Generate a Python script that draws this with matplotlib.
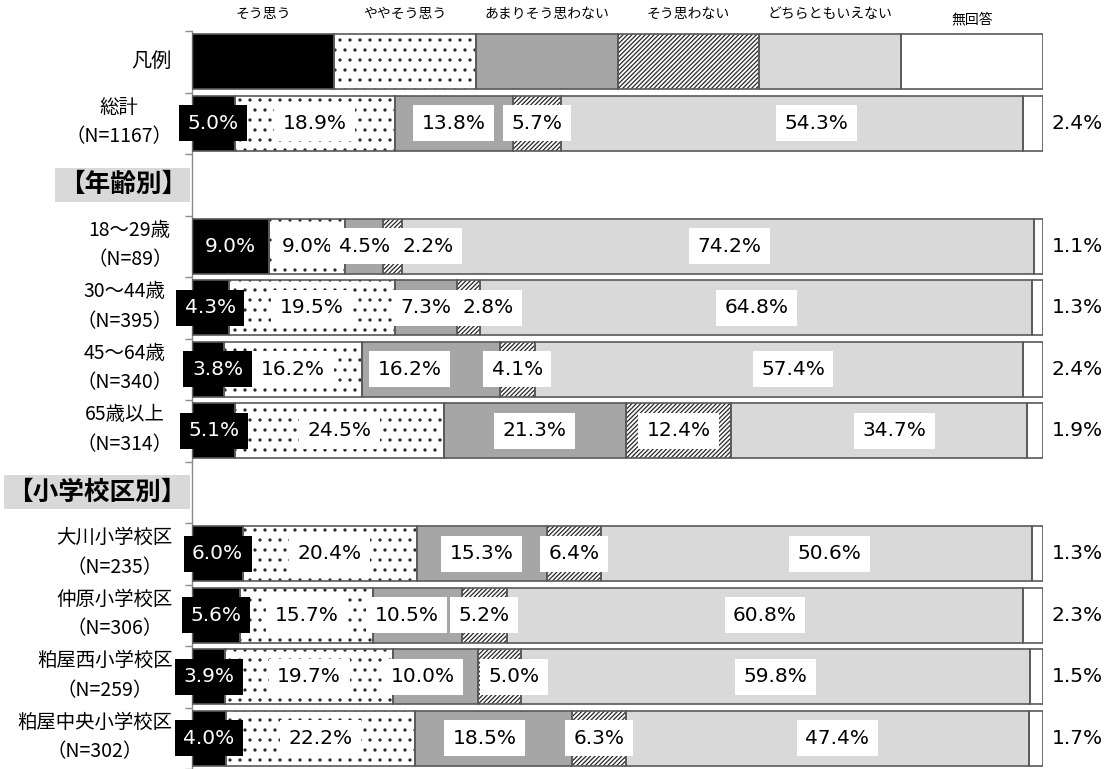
import matplotlib
matplotlib.use("Agg")
import matplotlib.pyplot as plt
import numpy as np

# The figure is rendered at 120 dpi so the dotted hatch gets a ~10 px pitch;
# every size below is written as if at 100 dpi and scaled with S().
DPI = 120
W_PX, H_PX = 1112, 769


def S(v):
    return v * 100 / DPI


plt.rcParams["font.family"] = ["Noto Sans CJK JP", "DejaVu Sans"]
plt.rcParams["hatch.linewidth"] = S(0.9)

# --- data -------------------------------------------------------------
CATEGORIES = ["そう思う", "ややそう思う", "あまりそう思わない",
              "そう思わない", "どちらともいえない", "無回答"]

ROW_LABELS = [
    "総計\n（N=1167）",
    "18～29歳\n（N=89）",
    "30～44歳\n（N=395）",
    "45～64歳\n（N=340）",
    "65歳以上\n（N=314）",
    "大川小学校区\n（N=235）",
    "仲原小学校区\n（N=306）",
    "粕屋西小学校区\n（N=259）",
    "粕屋中央小学校区\n（N=302）",
]

SOU_OMOU = [5.0, 9.0, 4.3, 3.8, 5.1, 6.0, 5.6, 3.9, 4.0]
YAYA     = [18.9, 9.0, 19.5, 16.2, 24.5, 20.4, 15.7, 19.7, 22.2]
AMARI    = [13.8, 4.5, 7.3, 16.2, 21.3, 15.3, 10.5, 10.0, 18.5]
OMOWANAI = [5.7, 2.2, 2.8, 4.1, 12.4, 6.4, 5.2, 5.0, 6.3]
DOCHIRA  = [54.3, 74.2, 64.8, 57.4, 34.7, 50.6, 60.8, 59.8, 47.4]
MUKAITO  = [2.4, 1.1, 1.3, 2.4, 1.9, 1.3, 2.3, 1.5, 1.7]

GROUP_HEADERS = ["【年齢別】", "【小学校区別】"]
LEGEND_LABEL = "凡例"

# --- layout / style ---------------------------------------------------
N_SLOTS = 12
LEGEND_SLOT = 0
ROW_SLOTS = [1, 3, 4, 5, 6, 8, 9, 10, 11]
HEADER_SLOTS = [2, 7]

FACES = ["#000000", "#ffffff", "#a6a6a6", "#ffffff", "#d9d9d9", "#ffffff"]
HATCHES = [None, "..", None, "/////////", None, None]
EDGE = "#595959"
BAR_H = 0.9

# manual label nudges (row index, category index) -> shift in %
NUDGE = {
    (0, 4): 2.9,
    (1, 3): 4.1, (1, 4): 1.4,
    (2, 3): 2.3,
    (3, 0): 1.1, (3, 2): -2.5, (3, 4): 1.7,
    (4, 4): 1.8,
    (5, 4): 1.5,
    (6, 2): -1.3,
    (7, 2): -1.5, (7, 3): 1.7,
    (8, 2): -1.0, (8, 4): 1.2,
}


def draw_stack(ax, y, widths):
    lefts = np.concatenate([[0], np.cumsum(widths)[:-1]])
    for i, (w, l) in enumerate(zip(widths, lefts)):
        ax.barh(y, w, left=l, height=BAR_H, color=FACES[i],
                hatch=HATCHES[i], edgecolor="#262626", linewidth=0, zorder=2)
        ax.barh(y, w, left=l, height=BAR_H, fill=False,
                edgecolor=EDGE, linewidth=S(1.2), zorder=3)
    return lefts


def main():
    values = np.array([SOU_OMOU, YAYA, AMARI, OMOWANAI, DOCHIRA, MUKAITO]).T
    shares = values / values.sum(axis=1, keepdims=True) * 100

    fig = plt.figure(figsize=(W_PX / DPI, H_PX / DPI), dpi=DPI)
    ax = fig.add_axes([192 / W_PX, 0.0, (1043 - 192) / W_PX, 1 - 31 / H_PX])
    ax.set_xlim(0, 100)
    ax.set_ylim(N_SLOTS - 0.5, -0.5)

    # legend row: equal segments
    legend_w = np.full(len(CATEGORIES), 100 / len(CATEGORIES))
    lefts = draw_stack(ax, LEGEND_SLOT, legend_w)
    for i, (cat, l, w) in enumerate(zip(CATEGORIES, lefts, legend_w)):
        dy = 0.19 if i == len(CATEGORIES) - 1 else 0.27
        ax.text(l + w / 2, -0.5 - dy, cat, ha="center", va="center",
                fontsize=S(10), color="#000000", clip_on=False)
    ax.text(-2.4, LEGEND_SLOT, LEGEND_LABEL, ha="right", va="center",
            fontsize=S(14.5), clip_on=False)

    # data rows
    for r, (slot, label) in enumerate(zip(ROW_SLOTS, ROW_LABELS)):
        widths = shares[r]
        lefts = draw_stack(ax, slot, widths)
        for i in range(len(CATEGORIES) - 1):
            x = lefts[i] + widths[i] / 2 + NUDGE.get((r, i), 0)
            dark = FACES[i] == "#000000"
            ax.text(x, slot, f"{values[r, i]:.1f}%", ha="center", va="center",
                    fontsize=S(14.5), family="DejaVu Sans",
                    color="white" if dark else "black", zorder=6, clip_on=False,
                    bbox=dict(boxstyle="square,pad=0.42",
                              fc="black" if dark else "white", ec="none"))
        ax.text(101.0, slot, f"{values[r, -1]:.1f}%", ha="left", va="center",
                fontsize=S(14.5), family="DejaVu Sans", clip_on=False)
        ax.text(-2.3, slot - 0.02, label, ha="right", va="center",
                multialignment="center", fontsize=S(14), linespacing=1.55,
                clip_on=False)

    for slot, head in zip(HEADER_SLOTS, GROUP_HEADERS):
        ax.text(-0.6, slot, head, ha="right", va="center", fontsize=S(18.5),
                fontweight="bold", clip_on=False,
                bbox=dict(boxstyle="square,pad=0.14", fc="#d9d9d9", ec="none"))

    # axis styling: only left spine with boundary ticks
    for side in ("top", "right", "bottom"):
        ax.spines[side].set_visible(False)
    ax.spines["left"].set_color("#8c8c8c")
    ax.spines["left"].set_linewidth(S(1.0))
    ax.set_yticks(np.arange(-0.5, N_SLOTS, 1.0))
    ax.set_yticklabels([])
    ax.tick_params(axis="y", direction="out", length=S(5), color="#8c8c8c",
                   width=S(1.0))
    ax.set_xticks([])
    ax.patch.set_alpha(0)

    fig.savefig("out.png", dpi=DPI)
    plt.close(fig)


if __name__ == "__main__":
    main()
